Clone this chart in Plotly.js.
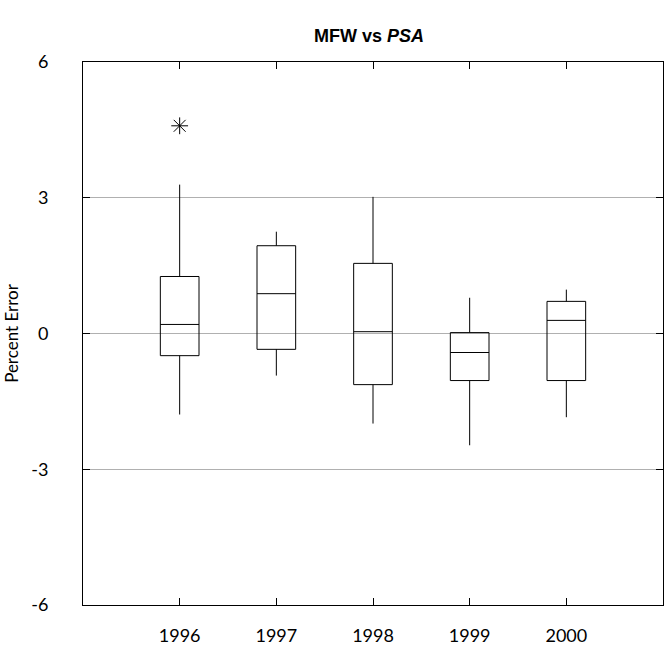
<!DOCTYPE html>
<html><head><meta charset="utf-8">
<script src="https://cdn.plot.ly/plotly-3.0.1.min.js"></script>
<style>body{margin:0;background:#fff}</style>
</head><body>
<div id="plot" style="width:665px;height:647px"></div>
<script>
// valeurs
const years = ['1996', '1997', '1998', '1999', '2000'];
const xPos = [0, 1, 2, 3, 4];
const q1 = [-0.49, -0.35, -1.13, -1.04, -1.04];
const med = [0.20, 0.88, 0.04, -0.42, 0.29];
const q3 = [1.26, 1.94, 1.55, 0.02, 0.71];
const lowW = [-1.79, -0.93, -1.99, -2.47, -1.85];
const highW = [3.29, 2.25, 3.02, 0.79, 0.97];
const outX = [0];
const outY = [4.59];

const boxes = {
  type: 'box', x: xPos, q1: q1, median: med, q3: q3,
  lowerfence: lowW, upperfence: highW, width: 0.4, whiskerwidth: 0,
  fillcolor: 'rgba(0,0,0,0)', line: {color: 'black', width: 1},
  boxpoints: false, hoverinfo: 'skip'
};
const outliers = {
  type: 'scatter', mode: 'markers', x: outX, y: outY,
  marker: {symbol: 'asterisk-open', size: 14, color: 'black', line: {color: 'black', width: 1}},
  hoverinfo: 'skip'
};

const layout = {
  width: 665, height: 647, showlegend: false,
  paper_bgcolor: 'white', plot_bgcolor: 'white',
  margin: {l: 83, r: 2, t: 62, b: 42},
  font: {family: 'Lato, DejaVu Sans, sans-serif', size: 18, color: 'black'},
  title: {text: '<b>MFW vs <i>PSA</i></b>', font: {family: 'Liberation Sans', size: 18}, x: 0.555, y: 0.955},
  xaxis: {range: [-1, 5], tickvals: xPos, ticktext: years, showgrid: false, zeroline: false,
          ticks: 'inside', ticklen: 7, tickcolor: 'black', mirror: 'ticks', ticklabelstandoff: 14,
          showline: true, linecolor: 'black', linewidth: 1},
  yaxis: {range: [-6, 6], tickvals: [-6, -3, 0, 3, 6], ticktext: ['-6', '-3', '0', '3', '6'],
          showgrid: true, gridcolor: '#b0b0b0', zeroline: false,
          ticks: 'inside', ticklen: 7, tickcolor: 'black', mirror: 'ticks', ticklabelstandoff: 30,
          showline: true, linecolor: 'black', linewidth: 1,
          title: {text: 'Percent Error', font: {size: 17}, standoff: 8}}
};

Plotly.newPlot('plot', [boxes, outliers], layout, {displayModeBar: false});
</script>
</body></html>
